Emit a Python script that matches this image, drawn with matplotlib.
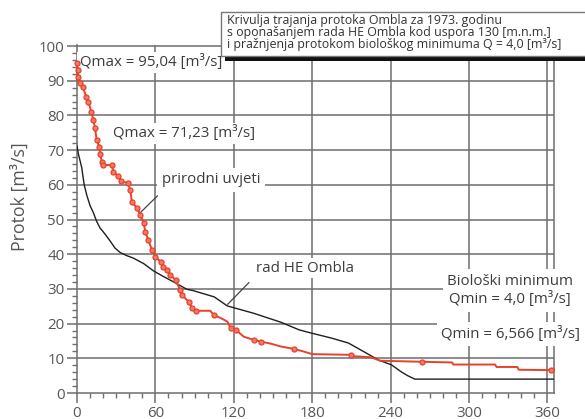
import matplotlib
matplotlib.use("Agg")
import matplotlib.pyplot as plt
from matplotlib.patches import Rectangle
from matplotlib.ticker import MultipleLocator

# ---- data ----
day_nat = [0, 0.5, 1, 2.3, 4.4, 7, 8.7, 11, 12.5, 13.8, 15, 17, 17.7, 19, 20, 26.7,
           27.7, 31.7, 34, 39, 40.8, 42, 46, 48.5, 51, 52.3, 54.6, 57.4, 60, 64, 66,
           69, 71.5, 75.4, 79, 80.5, 85.4, 88, 90.8, 102, 104.6, 110, 115, 117.7,
           121.5, 127.7, 135.4, 140.8, 148.5, 156, 166, 174, 180, 210, 212, 225,
           232, 264, 287, 288, 320, 321, 337, 338, 363, 365]
q_nat = [95.04, 93, 91, 89.3, 88.3, 85.4, 84, 81, 78.7, 76.4, 73, 71, 69, 66.7, 65.7,
         65.7, 63.8, 62.4, 61, 60.5, 58.5, 55, 53.3, 51.3, 49, 46.5, 44, 41.2, 39.3,
         37.8, 36.3, 35.4, 34, 32.6, 29.7, 28.2, 26.3, 24.5, 23.7, 23.7, 22.5, 21.6,
         20.6, 18.7, 18.2, 16.2, 15.3, 14.8, 14.2, 13.4, 12.7, 11.9, 11.2, 11.0, 10.6,
         10.3, 9.3, 9.0, 8.8, 8.2, 8.2, 7.5, 7.5, 6.7, 6.6, 6.566]
# indices of points that carry a circle marker
marker_idx = list(range(0, 39)) + [40, 43, 44, 46, 47, 50, 53, 57, 64]

day_he = [0, 1, 3.6, 5.5, 7.5, 10, 12.5, 15, 17.7, 20, 23, 25, 29, 33, 38, 43, 51,
          58.5, 66, 74, 84, 89, 105, 115, 135, 156, 170, 179, 195, 207.7, 220, 230.7,
          240.7, 248.5, 253, 258.5, 365]
q_he = [71.23, 69, 65, 60, 57, 54, 52, 49.5, 47.5, 46.5, 45, 44, 41.8, 40.5, 39.6, 38.9,
        37.3, 35.2, 33.6, 32, 29.9, 29.5, 27.7, 25.1, 23, 20.4, 18.2, 17.3, 15.8, 14.4,
        11.8, 9.5, 8.1, 6, 5, 4.0, 4.0]

x_ticks = [0, 60, 120, 180, 240, 300, 360]
y_ticks = [0, 10, 20, 30, 40, 50, 60, 70, 80, 90, 100]

title_lines = ["Krivulja trajanja protoka Ombla za 1973. godinu",
               "s oponašanjem rada HE Ombla kod uspora 130 [m.n.m.]",
               "i pražnjenja protokom biološkog minimuma Q = 4,0 [m³/s]"]

plt.rcParams['font.family'] = ['Open Sans', 'DejaVu Sans']

W, H = 585, 419
fig = plt.figure(figsize=(W / 100, H / 100), dpi=100)
ax = fig.add_axes([77 / W, (H - 393) / H, (554 - 77) / W, (393 - 45) / H])

RED = '#e8412c'
GRID = '#6e6e6e'
TXT = '#3c3c3c'

ax.set_xlim(0, 365)
ax.set_ylim(0, 100.3)

for v in x_ticks[1:]:
    ax.axvline(v, color=GRID, lw=1.1, zorder=1, ymax=100 / 100.3)
for v in y_ticks[1:]:
    ax.axhline(v, color=GRID, lw=1.1, zorder=1)

ax.plot(day_he, q_he, color='#1e1e1e', lw=1.0, zorder=6)
ax.plot(day_nat, q_nat, color=RED, lw=1.4, zorder=7,
        marker='o', markersize=3.6, markerfacecolor='#f07a63',
        markeredgecolor=RED, markeredgewidth=0.9, markevery=marker_idx,
        clip_on=False)

ax.set_xticks(x_ticks)
ax.set_yticks(y_ticks)
ax.xaxis.set_minor_locator(MultipleLocator(10))
ax.yaxis.set_minor_locator(MultipleLocator(2))
ax.tick_params(axis='both', which='major', direction='out', length=7, width=1.1,
               color=GRID, labelcolor='#555555', labelsize=10.8, pad=2)
ax.tick_params(axis='both', which='minor', direction='out', length=3.5, width=1.0,
               color=GRID)
for s in ['left', 'bottom', 'right']:
    ax.spines[s].set_color(GRID)
    ax.spines[s].set_linewidth(1.1)
ax.spines['top'].set_visible(False)
ax.spines['right'].set_bounds(0, 100)

box = dict(boxstyle='square,pad=0.15', fc='white', ec='none')
fs = 10.8
ax.text(2.0, 95.3, "Qmax = 95,04 [m³/s]", fontsize=fs, color=TXT, va='center',
        ha='left', bbox=box, zorder=5)
ax.text(27.3, 74.8, "Qmax = 71,23 [m³/s]", fontsize=fs, color=TXT, va='center',
        ha='left', bbox=box, zorder=5)
ax.text(65, 61.4, "prirodni uvjeti", fontsize=fs, color=TXT, va='center',
        ha='left', bbox=dict(boxstyle='square,pad=0.3', fc='white', ec='none'), zorder=5)
ax.plot([61.5, 48.5], [56.8, 52.0], color='#444444', lw=0.9, zorder=5)
ax.text(137.3, 36.0, "rad HE Ombla", fontsize=fs, color=TXT, va='center',
        ha='left', bbox=box, zorder=5)
ax.plot([131.5, 115.4], [31.8, 25.6], color='#444444', lw=0.9, zorder=5)
ax.text(331.5, 29.5, "Biološki minimum\nQmin = 4,0 [m³/s]", fontsize=fs, color=TXT,
        va='center', ha='center', multialignment='center', linespacing=1.2,
        bbox=dict(boxstyle='square,pad=0.3', fc='white', ec='none'), zorder=5,
        clip_on=False)
ax.text(331.5, 17.0, "Qmin = 6,566 [m³/s]", fontsize=fs, color=TXT, va='center',
        ha='center', bbox=dict(boxstyle='square,pad=0.25', fc='white', ec='none'),
        zorder=5, clip_on=False)

fig.text(20 / W, 1 - 197 / H, "Protok [m³/s]", rotation=90, fontsize=12.8,
         color='#555555', ha='center', va='center')

# title box with dark drop bar
fig.patches.append(Rectangle((225 / W, 1 - 61 / H), (600 - 225) / W, 6 / H,
                             transform=fig.transFigure, fc='#111111', ec='none',
                             zorder=10))
fig.patches.append(Rectangle((221 / W, 1 - 56 / H), (600 - 221) / W, 43.5 / H,
                             transform=fig.transFigure, fc='white', ec='#777777',
                             lw=1.0, zorder=11))
fig.text(227 / W, 1 - 32.5 / H, "\n".join(title_lines), fontsize=8.9,
         color='#333333', ha='left', va='center', multialignment='left',
         linespacing=0.93, zorder=12)

fig.savefig("out.png", dpi=100)
